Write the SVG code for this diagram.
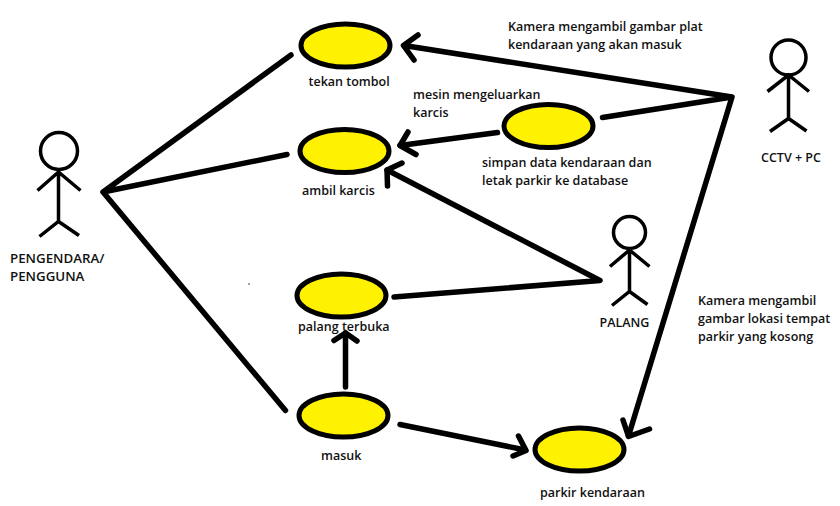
<svg xmlns="http://www.w3.org/2000/svg" width="840" height="506" viewBox="0 0 840 506">
<style>
.uc{fill:#fff200;stroke:#000;stroke-width:5}
.c{fill:none;stroke:#000;stroke-width:5.500;stroke-linecap:round;stroke-linejoin:round}
.a{fill:none;stroke:#000;stroke-width:3.500}
.h{fill:#fff;stroke:#000;stroke-width:3.500}
text{font-family:"Open Sans","Noto Sans","Liberation Sans",sans-serif;font-size:12.500px;font-weight:600;fill:#111}
.big{font-size:13.300px}
</style>
<rect width="840" height="506" fill="#fff"/>
<g id="connectors">
<path class="c" d="M291 55 L103 192 L287 154.500 M103 192 L285.500 410.500"/>
<path class="c" d="M404 45.500 L732 97 L602.500 117.500 M732 97 L628.500 436"/>
<path class="c" d="M497.500 132.500 L400 145.500"/>
<path class="c" d="M387 170 L600 280.500 L394 297"/>
<path class="c" d="M345.500 387 V333"/>
<path class="c" d="M400 424.500 L525.500 450"/>
<path class="c" d="M418 35 L403.500 45.500 L414 60"/>
<path class="c" d="M408 132 L400 145.500 L416 154.500"/>
<path class="c" d="M402 163 L387 170 L387.500 186"/>
<path class="c" d="M334 340.500 L345.500 333 L357 341"/>
<path class="c" d="M518.500 436 L526 450.500 L513 456"/>
<path class="c" d="M623 420 L628.500 436.500 L649.500 429"/>
<circle cx="249" cy="284" r="0.800" fill="#333"/>
</g>
<g id="actor-pengendara">
<circle class="h" cx="59" cy="151" r="18.500"/>
<path class="a" d="M37.500 190.500 L58.500 172 L80.500 190.500 M58.500 172 V221.500 M39.500 236.500 L58.500 221.500 L79 235.500"/>
<text class="big" x="10" y="263">PENGENDARA/</text><text class="big" x="10" y="281">PENGGUNA</text>
</g>
<g id="actor-cctv">
<circle class="h" cx="788.500" cy="57.500" r="17.500"/>
<path class="a" d="M767.500 91.500 L788.500 75 L809 91.500 M788.500 75 V118.500 M770 131.500 L788.500 118.500 L806.500 131"/>
<text x="761" y="162">CCTV + PC</text>
</g>
<g id="actor-palang">
<circle class="h" cx="629.500" cy="232.500" r="16"/>
<path class="a" d="M610 266.500 L629.500 250 L649.500 266.500 M629.500 250 V291.500 M612 305.500 L629.500 291.500 L647.500 304.500"/>
<text x="599.500" y="327">PALANG</text>
</g>
<g id="uc-tekan"><ellipse class="uc" cx="345.500" cy="45.500" rx="44.500" ry="21.500"/><text x="308.500" y="86">tekan tombol</text></g>
<g id="uc-ambil"><ellipse class="uc" cx="344.500" cy="151" rx="44.500" ry="21.500"/><text x="302" y="195">ambil karcis</text></g>
<g id="uc-simpan"><ellipse class="uc" cx="548.500" cy="126" rx="44.500" ry="21.500"/><text x="482" y="167">simpan data kendaraan dan</text><text x="482" y="185">letak parkir ke database</text></g>
<g id="uc-palang"><ellipse class="uc" cx="341.500" cy="295.500" rx="44.500" ry="21.500"/><text x="298" y="331">palang terbuka</text></g>
<g id="uc-masuk"><ellipse class="uc" cx="343.500" cy="415.500" rx="44.500" ry="21.500"/><text x="321" y="459.500">masuk</text></g>
<g id="uc-parkir"><ellipse class="uc" cx="579.500" cy="449.500" rx="44.500" ry="21.500"/><text x="540" y="497">parkir kendaraan</text></g>
<g id="labels">
<text x="508" y="31">Kamera mengambil gambar plat</text><text x="508" y="49">kendaraan yang akan masuk</text>
<text x="413" y="99">mesin mengeluarkan</text><text x="413" y="117">karcis</text>
<text x="698" y="304.500">Kamera mengambil</text><text x="698" y="322.500">gambar lokasi tempat</text><text x="698" y="340.500">parkir yang kosong</text>
</g>
</svg>
